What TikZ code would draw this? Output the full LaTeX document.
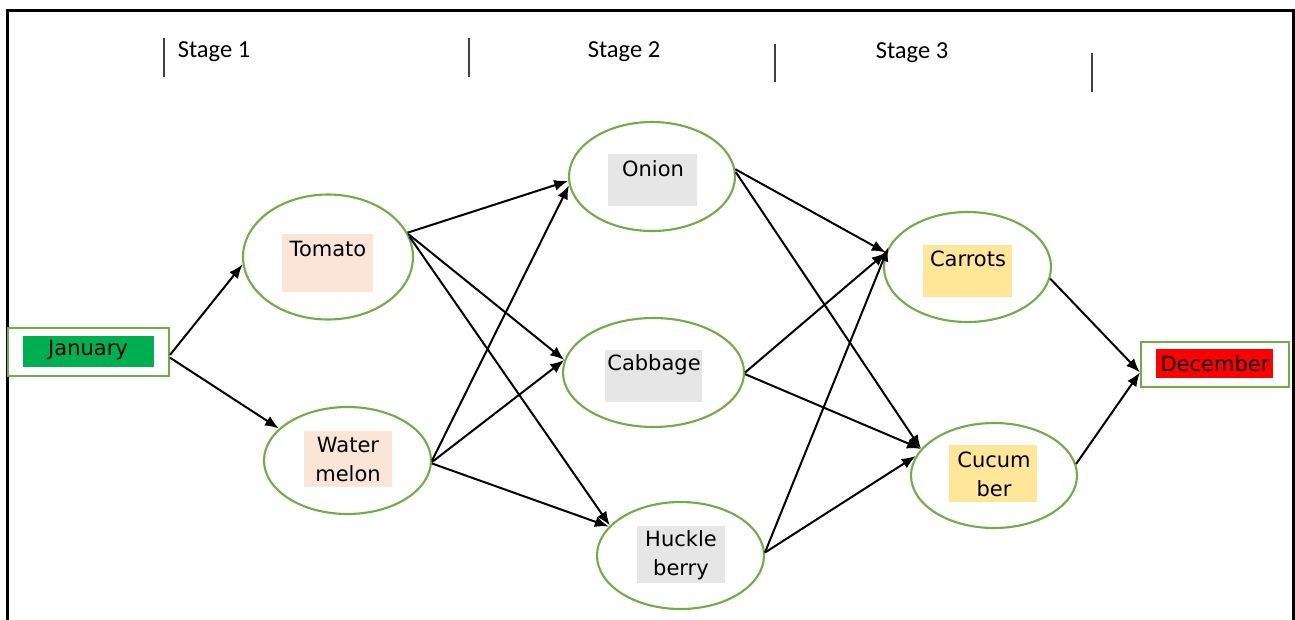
\documentclass[tikz,border=0pt]{standalone}
\usepackage{fontspec}
\setmainfont{DejaVu Sans}
\newfontfamily\stagefont{Carlito}
\usetikzlibrary{shapes.geometric,arrows.meta}
\definecolor{egreen}{HTML}{70AD47}
\definecolor{peach}{HTML}{FBE5D6}
\definecolor{lgray}{HTML}{E7E6E6}
\definecolor{lyellow}{HTML}{FFE699}
\definecolor{jgreen}{HTML}{00B050}
\definecolor{dred}{HTML}{FF0000}
\tikzset{
  oval/.style={ellipse, draw=egreen, line width=2.1pt, fill=white, inner sep=0pt},
  outerbox/.style={rectangle, draw=egreen, line width=2.1pt, fill=white, inner sep=0pt},
  fillbox/.style={rectangle, draw=none, inner sep=0pt},
  txt/.style={inner sep=0pt, align=center, font=\fontsize{21}{28.5}\selectfont},
  stagetxt/.style={inner sep=0pt, font=\stagefont\fontsize{24.5}{28}\selectfont},
  sep/.style={line width=1.2pt, draw=black!75},
  frame/.style={line width=3pt, draw=black},
  arr/.style={line width=2pt, -{Latex[length=14pt,width=11pt]}}
}
\begin{document}
\begin{tikzpicture}[x=1pt,y=-1pt]
\useasboundingbox (0,0) rectangle (1295,619);
% frame
\draw[frame] (7,630) -- (7,10) -- (1293,10) -- (1293,630);
% stage separators and labels
\draw[sep] (164,38) -- (164,77);
\draw[sep] (469,38) -- (469,77);
\draw[sep] (775,44) -- (775,82);
\draw[sep] (1092,53) -- (1092,92);
\node[stagetxt] (s1) at (214,52) {Stage 1};
\node[stagetxt] (s2) at (624,52) {Stage 2};
\node[stagetxt] (s3) at (912,53) {Stage 3};
% January / December
\node[outerbox, minimum width=161pt, minimum height=48pt] (jan) at (88.5,352) {};
\node[fillbox, fill=jgreen, minimum width=131pt, minimum height=31pt] (janf) at (88,351.5) {};
\node[txt] (jant) at (88,350.5) {January};
\node[outerbox, minimum width=148pt, minimum height=45pt] (dec) at (1215,364.5) {};
\node[fillbox, fill=dred, minimum width=117pt, minimum height=29pt] (decf) at (1214.5,363.5) {};
\node[txt] (dect) at (1215,363.5) {December};
% ellipses
\node[oval, minimum width=170pt, minimum height=125pt] (tom) at (328,257) {};
\node[oval, minimum width=167pt, minimum height=107pt] (wat) at (347.5,460.5) {};
\node[oval, minimum width=166pt, minimum height=109pt] (oni) at (652,176.5) {};
\node[oval, minimum width=181pt, minimum height=109pt] (cab) at (653.5,372.5) {};
\node[oval, minimum width=167pt, minimum height=107pt] (huc) at (680.5,555.5) {};
\node[oval, minimum width=167pt, minimum height=110pt] (car) at (967.5,267) {};
\node[oval, minimum width=166pt, minimum height=105pt] (cuc) at (994,475.5) {};
% label boxes
\node[fillbox, fill=peach, minimum width=91pt, minimum height=58pt] (tomf) at (327.5,263) {};
\node[fillbox, fill=peach, minimum width=88pt, minimum height=56pt] (watf) at (348,459) {};
\node[fillbox, fill=lgray, minimum width=89pt, minimum height=52pt] (onif) at (652.5,180) {};
\node[fillbox, fill=lgray, minimum width=97pt, minimum height=52pt] (cabf) at (653.5,376) {};
\node[fillbox, fill=lgray, minimum width=88pt, minimum height=57pt] (hucf) at (681,554.5) {};
\node[fillbox, fill=lyellow, minimum width=89pt, minimum height=52pt] (carf) at (967.5,271) {};
\node[fillbox, fill=lyellow, minimum width=88pt, minimum height=57pt] (cucf) at (993,473.5) {};
% texts
\node[txt] (tomt) at (328,249) {Tomato};
\node[txt] (watt) at (348,459.5) {Water\\melon};
\node[txt] (onit) at (653,169) {Onion};
\node[txt] (cabt) at (654,365) {Cabbage};
\node[txt] (huct) at (681,555) {Huckle\\berry};
\node[txt] (cart) at (968,259) {Carrots};
\node[txt] (cuct) at (994,474.5) {Cucum\\ber};
% arrows
\draw[arr] (jan.-2) -- (tom.185);
\draw[arr] (jan.-4) -- (wat.155);
\draw[arr] (tom.17) -- (oni.183);
\draw[arr] (tom.16) -- (cab.172);
\draw[arr] (tom.14) -- (huc.157);
\draw[arr] (wat.0) -- (oni.186);
\draw[arr] (wat.-1) -- (cab.172);
\draw[arr] (wat.-2) -- (huc.158);
\draw[arr] (oni.5) -- (car.170);
\draw[arr] (oni.3) -- (cuc.160);
\draw[arr] (cab.0) -- (car.170);
\draw[arr] (cab.-1) -- (cuc.160);
\draw[arr] (huc.2) -- (car.166);
\draw[arr] (huc.2) -- (cuc.166);
\draw[arr] (car.-8) -- (dec.186);
\draw[arr] (cuc.8) -- (dec.186);
\end{tikzpicture}
\end{document}
